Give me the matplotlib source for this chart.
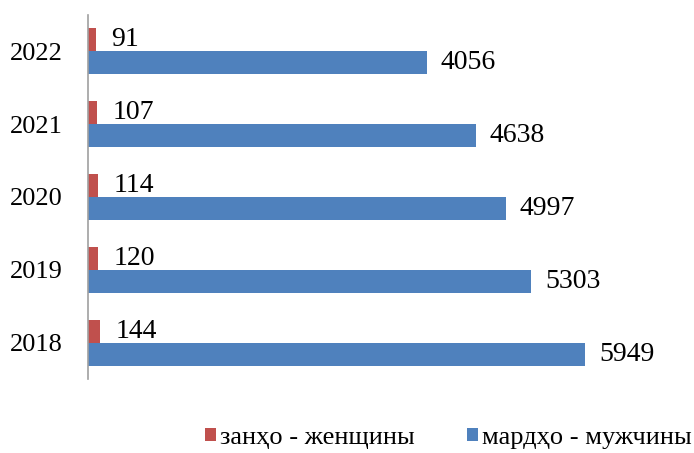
import matplotlib.pyplot as plt
import numpy as np

years = ["2018", "2019", "2020", "2021", "2022"]
women = [144, 120, 114, 107, 91]
men = [5949, 5303, 4997, 4638, 4056]

plt.rcParams['font.family'] = ['Liberation Serif', 'DejaVu Serif']

fig = plt.figure(figsize=(6.94, 4.53), dpi=100)
ax = fig.add_axes([0.1268, 0.1634, 0.843, 0.8035])

y = np.arange(len(years))
h = 0.316
red_bars = ax.barh(y + h / 2, women, height=h, color='#C0504D', label='занҳо - женщины')
blue_bars = ax.barh(y - h / 2, men, height=h, color='#4F81BD', label='мардҳо - мужчины')

for bar, v in zip(red_bars, women):
    ax.annotate(str(v), (bar.get_width(), bar.get_y() + bar.get_height() / 2),
                xytext=(11.5, 0), textcoords='offset points', va='center', ha='left', fontsize=20)
for bar, v in zip(blue_bars, men):
    ax.annotate(str(v), (bar.get_width(), bar.get_y() + bar.get_height() / 2),
                xytext=(10, 0), textcoords='offset points', va='center', ha='left', fontsize=20)

ax.set_xlim(0, 7000)
ax.set_ylim(-0.5, 4.5)
ax.set_yticks(y)
ax.set_yticklabels(years, fontsize=19)
ax.tick_params(axis='y', length=0, pad=18)
ax.set_xticks([])
for s in ['top', 'right', 'bottom']:
    ax.spines[s].set_visible(False)
ax.spines['left'].set_color('#A0A0A0')
ax.spines['left'].set_linewidth(1.2)

fig.legend(loc='center', bbox_to_anchor=(0.646, 0.033), ncol=2, frameon=False,
           fontsize=19, handlelength=0.42, handleheight=0.42, handletextpad=0.15,
           columnspacing=2.0)

fig.savefig('out.png', dpi=100)
